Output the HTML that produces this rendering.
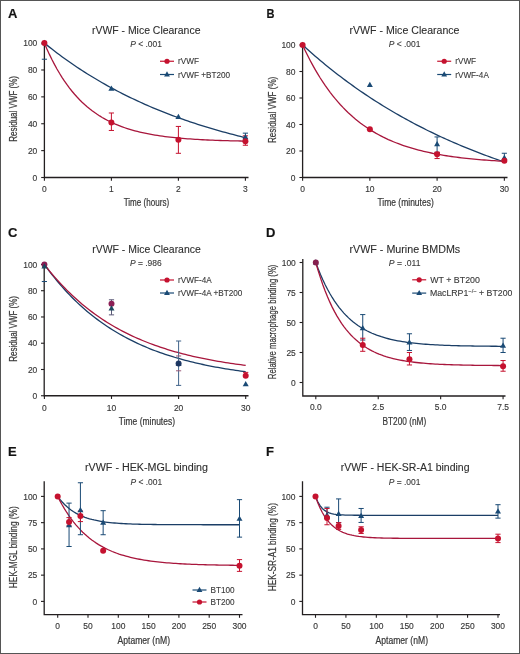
<!DOCTYPE html>
<html><head><meta charset="utf-8"><style>
html,body{margin:0;padding:0;background:#fff;}
body{width:520px;height:654px;overflow:hidden;}
svg{display:block;font-family:"Liberation Sans", sans-serif;will-change:transform;}
text{stroke:#383838;stroke-width:0.22px;}
text.t{stroke-width:0.15px;}
text.h{stroke-width:0.1px;}
</style></head><body>
<svg width="520" height="654" viewBox="0 0 520 654">
<rect x="0" y="0" width="520" height="654" fill="#fff"/>
<text x="8" y="17.5" font-size="13" font-weight="bold" fill="#111">A</text>
<text x="146.20" y="33.70" font-size="10.0" text-anchor="middle" fill="#2b2b2b" textLength="108.5" lengthAdjust="spacingAndGlyphs" class="h">rVWF - Mice Clearance</text>
<text x="146.00" y="46.80" font-size="8.7" class="h" text-anchor="middle" fill="#383838" textLength="31.7" lengthAdjust="spacingAndGlyphs"><tspan font-style="italic">P</tspan> &lt; .001</text>
<path d="M44.40,43.00V177.50H248.50" fill="none" stroke="#231f20" stroke-width="1.3"/>
<path d="M44.40,177.50v3.2" stroke="#231f20" stroke-width="1.1"/>
<path d="M111.40,177.50v3.2" stroke="#231f20" stroke-width="1.1"/>
<path d="M178.40,177.50v3.2" stroke="#231f20" stroke-width="1.1"/>
<path d="M245.40,177.50v3.2" stroke="#231f20" stroke-width="1.1"/>
<path d="M44.40,177.50h-3.2" stroke="#231f20" stroke-width="1.1"/>
<path d="M44.40,150.62h-3.2" stroke="#231f20" stroke-width="1.1"/>
<path d="M44.40,123.74h-3.2" stroke="#231f20" stroke-width="1.1"/>
<path d="M44.40,96.86h-3.2" stroke="#231f20" stroke-width="1.1"/>
<path d="M44.40,69.98h-3.2" stroke="#231f20" stroke-width="1.1"/>
<path d="M44.40,43.10h-3.2" stroke="#231f20" stroke-width="1.1"/>
<text x="44.40" y="191.50" font-size="9.0" text-anchor="middle" fill="#383838" textLength="4.70" lengthAdjust="spacingAndGlyphs" class="t">0</text>
<text x="111.40" y="191.50" font-size="9.0" text-anchor="middle" fill="#383838" textLength="4.70" lengthAdjust="spacingAndGlyphs" class="t">1</text>
<text x="178.40" y="191.50" font-size="9.0" text-anchor="middle" fill="#383838" textLength="4.70" lengthAdjust="spacingAndGlyphs" class="t">2</text>
<text x="245.40" y="191.50" font-size="9.0" text-anchor="middle" fill="#383838" textLength="4.70" lengthAdjust="spacingAndGlyphs" class="t">3</text>
<text x="37.30" y="180.70" font-size="9.0" text-anchor="end" fill="#383838" textLength="4.70" lengthAdjust="spacingAndGlyphs" class="t">0</text>
<text x="37.30" y="153.82" font-size="9.0" text-anchor="end" fill="#383838" textLength="9.41" lengthAdjust="spacingAndGlyphs" class="t">20</text>
<text x="37.30" y="126.94" font-size="9.0" text-anchor="end" fill="#383838" textLength="9.41" lengthAdjust="spacingAndGlyphs" class="t">40</text>
<text x="37.30" y="100.06" font-size="9.0" text-anchor="end" fill="#383838" textLength="9.41" lengthAdjust="spacingAndGlyphs" class="t">60</text>
<text x="37.30" y="73.18" font-size="9.0" text-anchor="end" fill="#383838" textLength="9.41" lengthAdjust="spacingAndGlyphs" class="t">80</text>
<text x="37.30" y="46.30" font-size="9.0" text-anchor="end" fill="#383838" textLength="14.11" lengthAdjust="spacingAndGlyphs" class="t">100</text>
<text x="146.45" y="206.20" font-size="10.4" text-anchor="middle" fill="#383838" textLength="45.5" lengthAdjust="spacingAndGlyphs" >Time (hours)</text>
<text transform="translate(17.40,108.90) rotate(-90)" x="0" y="0" font-size="10.6" text-anchor="middle" fill="#383838" textLength="65.7" lengthAdjust="spacingAndGlyphs">Residual VWF (%)</text>
<polyline points="44.40,43.10 46.91,45.13 49.42,47.12 51.94,49.09 54.45,51.02 56.96,52.93 59.48,54.81 61.99,56.66 64.50,58.48 67.01,60.27 69.53,62.04 72.04,63.78 74.55,65.49 77.06,67.18 79.58,68.84 82.09,70.48 84.60,72.09 87.11,73.68 89.62,75.25 92.14,76.79 94.65,78.31 97.16,79.80 99.67,81.27 102.19,82.72 104.70,84.15 107.21,85.56 109.72,86.95 112.24,88.31 114.75,89.66 117.26,90.98 119.78,92.28 122.29,93.57 124.80,94.83 127.31,96.08 129.82,97.31 132.34,98.52 134.85,99.71 137.36,100.88 139.88,102.03 142.39,103.17 144.90,104.29 147.41,105.39 149.92,106.48 152.44,107.55 154.95,108.61 157.46,109.64 159.97,110.67 162.49,111.67 165.00,112.67 167.51,113.64 170.03,114.61 172.54,115.55 175.05,116.49 177.56,117.41 180.07,118.31 182.59,119.21 185.10,120.08 187.61,120.95 190.12,121.80 192.64,122.64 195.15,123.47 197.66,124.28 200.18,125.08 202.69,125.87 205.20,126.65 207.71,127.42 210.23,128.17 212.74,128.92 215.25,129.65 217.76,130.37 220.28,131.08 222.79,131.78 225.30,132.47 227.81,133.15 230.32,133.82 232.84,134.48 235.35,135.12 237.86,135.76 240.38,136.39 242.89,137.01 245.40,137.62" fill="none" stroke="#1b3e66" stroke-width="1.3"/>
<polyline points="44.40,43.10 46.91,48.92 49.42,54.40 51.94,59.56 54.45,64.41 56.96,68.98 59.48,73.27 61.99,77.32 64.50,81.12 67.01,84.71 69.53,88.08 72.04,91.25 74.55,94.23 77.06,97.04 79.58,99.68 82.09,102.17 84.60,104.51 87.11,106.71 89.62,108.79 92.14,110.74 94.65,112.57 97.16,114.30 99.67,115.93 102.19,117.46 104.70,118.90 107.21,120.25 109.72,121.53 112.24,122.73 114.75,123.86 117.26,124.92 119.78,125.92 122.29,126.86 124.80,127.75 127.31,128.58 129.82,129.36 132.34,130.10 134.85,130.80 137.36,131.45 139.88,132.06 142.39,132.64 144.90,133.19 147.41,133.70 149.92,134.18 152.44,134.64 154.95,135.06 157.46,135.47 159.97,135.84 162.49,136.20 165.00,136.53 167.51,136.85 170.03,137.15 172.54,137.43 175.05,137.69 177.56,137.94 180.07,138.17 182.59,138.39 185.10,138.59 187.61,138.79 190.12,138.97 192.64,139.14 195.15,139.30 197.66,139.46 200.18,139.60 202.69,139.73 205.20,139.86 207.71,139.98 210.23,140.09 212.74,140.20 215.25,140.30 217.76,140.39 220.28,140.48 222.79,140.56 225.30,140.64 227.81,140.71 230.32,140.78 232.84,140.85 235.35,140.91 237.86,140.97 240.38,141.02 242.89,141.07 245.40,141.12" fill="none" stroke="#a8163c" stroke-width="1.3"/>
<path d="M41.80,59.23h5.20" stroke="#1a4a75" stroke-width="1.0"/>
<path d="M111.40,130.46V112.99M108.80,130.46h5.20M108.80,112.99h5.20" stroke="#c5122f" stroke-width="1.0" fill="none"/>
<path d="M178.40,153.31V126.43M175.80,153.31h5.20M175.80,126.43h5.20" stroke="#c5122f" stroke-width="1.0" fill="none"/>
<path d="M245.40,145.24V135.84M242.80,145.24h5.20M242.80,135.84h5.20" stroke="#c5122f" stroke-width="1.0" fill="none"/>
<path d="M245.40,141.21V133.15M242.80,141.21h5.20M242.80,133.15h5.20" stroke="#1a4a75" stroke-width="1.0" fill="none"/>
<path d="M44.40,39.86L47.40,45.08H41.40Z" fill="#1a4a75"/>
<path d="M111.40,85.56L114.40,90.78H108.40Z" fill="#1a4a75"/>
<path d="M178.40,113.78L181.40,119.00H175.40Z" fill="#1a4a75"/>
<path d="M245.40,133.94L248.40,139.16H242.40Z" fill="#1a4a75"/>
<circle cx="44.40" cy="43.10" r="3.0" fill="#c5122f"/>
<circle cx="111.40" cy="122.40" r="3.0" fill="#c5122f"/>
<circle cx="178.40" cy="139.87" r="3.0" fill="#c5122f"/>
<circle cx="245.40" cy="141.21" r="3.0" fill="#c5122f"/>
<path d="M160.00,61.25h14" stroke="#c5122f" stroke-width="1.2"/>
<circle cx="167.00" cy="61.25" r="2.6" fill="#c5122f"/>
<text x="178.00" y="64.25" font-size="8.2" text-anchor="start" fill="#383838" class="h">rVWF</text>
<path d="M160.00,74.50h14" stroke="#1a4a75" stroke-width="1.2"/>
<path d="M167.00,71.37L169.90,76.42H164.10Z" fill="#1a4a75"/>
<text x="178.00" y="77.50" font-size="8.2" text-anchor="start" fill="#383838" class="h">rVWF +BT200</text>
<text x="266.4" y="17.5" font-size="13" font-weight="bold" fill="#111" textLength="8" lengthAdjust="spacingAndGlyphs">B</text>
<text x="404.50" y="33.70" font-size="10.0" text-anchor="middle" fill="#2b2b2b" textLength="110" lengthAdjust="spacingAndGlyphs" class="h">rVWF - Mice Clearance</text>
<text x="404.60" y="46.80" font-size="8.7" class="h" text-anchor="middle" fill="#383838" textLength="31.7" lengthAdjust="spacingAndGlyphs"><tspan font-style="italic">P</tspan> &lt; .001</text>
<path d="M302.60,45.00V177.50H507.50" fill="none" stroke="#231f20" stroke-width="1.3"/>
<path d="M302.60,177.50v3.2" stroke="#231f20" stroke-width="1.1"/>
<path d="M369.85,177.50v3.2" stroke="#231f20" stroke-width="1.1"/>
<path d="M437.10,177.50v3.2" stroke="#231f20" stroke-width="1.1"/>
<path d="M504.35,177.50v3.2" stroke="#231f20" stroke-width="1.1"/>
<path d="M302.60,177.50h-3.2" stroke="#231f20" stroke-width="1.1"/>
<path d="M302.60,151.00h-3.2" stroke="#231f20" stroke-width="1.1"/>
<path d="M302.60,124.50h-3.2" stroke="#231f20" stroke-width="1.1"/>
<path d="M302.60,98.00h-3.2" stroke="#231f20" stroke-width="1.1"/>
<path d="M302.60,71.50h-3.2" stroke="#231f20" stroke-width="1.1"/>
<path d="M302.60,45.00h-3.2" stroke="#231f20" stroke-width="1.1"/>
<text x="302.60" y="191.50" font-size="9.0" text-anchor="middle" fill="#383838" textLength="4.70" lengthAdjust="spacingAndGlyphs" class="t">0</text>
<text x="369.85" y="191.50" font-size="9.0" text-anchor="middle" fill="#383838" textLength="9.41" lengthAdjust="spacingAndGlyphs" class="t">10</text>
<text x="437.10" y="191.50" font-size="9.0" text-anchor="middle" fill="#383838" textLength="9.41" lengthAdjust="spacingAndGlyphs" class="t">20</text>
<text x="504.35" y="191.50" font-size="9.0" text-anchor="middle" fill="#383838" textLength="9.41" lengthAdjust="spacingAndGlyphs" class="t">30</text>
<text x="295.50" y="180.70" font-size="9.0" text-anchor="end" fill="#383838" textLength="4.70" lengthAdjust="spacingAndGlyphs" class="t">0</text>
<text x="295.50" y="154.20" font-size="9.0" text-anchor="end" fill="#383838" textLength="9.41" lengthAdjust="spacingAndGlyphs" class="t">20</text>
<text x="295.50" y="127.70" font-size="9.0" text-anchor="end" fill="#383838" textLength="9.41" lengthAdjust="spacingAndGlyphs" class="t">40</text>
<text x="295.50" y="101.20" font-size="9.0" text-anchor="end" fill="#383838" textLength="9.41" lengthAdjust="spacingAndGlyphs" class="t">60</text>
<text x="295.50" y="74.70" font-size="9.0" text-anchor="end" fill="#383838" textLength="9.41" lengthAdjust="spacingAndGlyphs" class="t">80</text>
<text x="295.50" y="48.20" font-size="9.0" text-anchor="end" fill="#383838" textLength="14.11" lengthAdjust="spacingAndGlyphs" class="t">100</text>
<text x="405.60" y="206.20" font-size="10.4" text-anchor="middle" fill="#383838" textLength="56.25" lengthAdjust="spacingAndGlyphs" >Time (minutes)</text>
<text transform="translate(275.50,109.85) rotate(-90)" x="0" y="0" font-size="10.6" text-anchor="middle" fill="#383838" textLength="66.3" lengthAdjust="spacingAndGlyphs">Residual VWF (%)</text>
<polyline points="302.60,45.00 305.12,47.30 307.64,49.56 310.17,51.80 312.69,54.01 315.21,56.20 317.73,58.35 320.25,60.48 322.78,62.59 325.30,64.66 327.82,66.71 330.34,68.74 332.86,70.74 335.38,72.72 337.91,74.67 340.43,76.60 342.95,78.50 345.47,80.38 347.99,82.24 350.52,84.08 353.04,85.89 355.56,87.68 358.08,89.44 360.60,91.19 363.12,92.91 365.65,94.62 368.17,96.30 370.69,97.96 373.21,99.60 375.73,101.22 378.26,102.82 380.78,104.40 383.30,105.96 385.82,107.50 388.34,109.02 390.87,110.52 393.39,112.01 395.91,113.47 398.43,114.92 400.95,116.35 403.48,117.76 406.00,119.16 408.52,120.54 411.04,121.90 413.56,123.24 416.08,124.57 418.61,125.88 421.13,127.17 423.65,128.45 426.17,129.71 428.69,130.96 431.22,132.19 433.74,133.41 436.26,134.61 438.78,135.80 441.30,136.97 443.83,138.13 446.35,139.27 448.87,140.40 451.39,141.51 453.91,142.61 456.43,143.70 458.96,144.77 461.48,145.83 464.00,146.88 466.52,147.92 469.04,148.94 471.57,149.95 474.09,150.94 476.61,151.93 479.13,152.90 481.65,153.86 484.18,154.81 486.70,155.75 489.22,156.67 491.74,157.58 494.26,158.49 496.78,159.38 499.31,160.26 501.83,161.13 504.35,161.98" fill="none" stroke="#1b3e66" stroke-width="1.3"/>
<polyline points="302.60,45.00 305.12,50.40 307.64,55.55 310.17,60.47 312.69,65.17 315.21,69.65 317.73,73.93 320.25,78.02 322.78,81.92 325.30,85.65 327.82,89.20 330.34,92.60 332.86,95.84 335.38,98.94 337.91,101.89 340.43,104.72 342.95,107.41 345.47,109.98 347.99,112.44 350.52,114.78 353.04,117.02 355.56,119.16 358.08,121.20 360.60,123.15 363.12,125.01 365.65,126.78 368.17,128.48 370.69,130.10 373.21,131.64 375.73,133.12 378.26,134.53 380.78,135.87 383.30,137.16 385.82,138.38 388.34,139.56 390.87,140.67 393.39,141.74 395.91,142.76 398.43,143.73 400.95,144.66 403.48,145.55 406.00,146.39 408.52,147.20 411.04,147.97 413.56,148.71 416.08,149.41 418.61,150.08 421.13,150.73 423.65,151.34 426.17,151.92 428.69,152.48 431.22,153.01 433.74,153.52 436.26,154.01 438.78,154.47 441.30,154.91 443.83,155.34 446.35,155.74 448.87,156.12 451.39,156.49 453.91,156.84 456.43,157.18 458.96,157.50 461.48,157.80 464.00,158.10 466.52,158.37 469.04,158.64 471.57,158.89 474.09,159.14 476.61,159.37 479.13,159.59 481.65,159.80 484.18,160.00 486.70,160.19 489.22,160.38 491.74,160.55 494.26,160.72 496.78,160.88 499.31,161.03 501.83,161.18 504.35,161.32" fill="none" stroke="#a8163c" stroke-width="1.3"/>
<path d="M437.10,152.32V136.95M434.50,152.32h5.20M434.50,136.95h5.20" stroke="#1a4a75" stroke-width="1.0" fill="none"/>
<path d="M504.35,161.60V153.25M501.75,161.60h5.20M501.75,153.25h5.20" stroke="#1a4a75" stroke-width="1.0" fill="none"/>
<path d="M437.10,158.55V152.32M434.50,158.55h5.20M434.50,152.32h5.20" stroke="#c5122f" stroke-width="1.0" fill="none"/>
<path d="M302.60,41.76L305.60,46.98H299.60Z" fill="#1a4a75"/>
<path d="M369.85,81.78L372.85,87.00H366.85Z" fill="#1a4a75"/>
<path d="M437.10,141.01L440.10,146.23H434.10Z" fill="#1a4a75"/>
<path d="M504.35,154.65L507.35,159.87H501.35Z" fill="#1a4a75"/>
<circle cx="302.60" cy="45.00" r="3.0" fill="#c5122f"/>
<circle cx="369.85" cy="129.14" r="3.0" fill="#c5122f"/>
<circle cx="437.10" cy="154.31" r="3.0" fill="#c5122f"/>
<circle cx="504.35" cy="160.81" r="3.0" fill="#c5122f"/>
<path d="M437.20,61.25h14" stroke="#c5122f" stroke-width="1.2"/>
<circle cx="444.20" cy="61.25" r="2.6" fill="#c5122f"/>
<text x="455.20" y="64.25" font-size="8.2" text-anchor="start" fill="#383838" class="h">rVWF</text>
<path d="M437.20,74.50h14" stroke="#1a4a75" stroke-width="1.2"/>
<path d="M444.20,71.37L447.10,76.42H441.30Z" fill="#1a4a75"/>
<text x="455.20" y="77.50" font-size="8.2" text-anchor="start" fill="#383838" class="h">rVWF-4A</text>
<text x="8" y="237" font-size="13" font-weight="bold" fill="#111">C</text>
<text x="146.50" y="252.50" font-size="10.0" text-anchor="middle" fill="#2b2b2b" textLength="108.5" lengthAdjust="spacingAndGlyphs" class="h">rVWF - Mice Clearance</text>
<text x="145.80" y="266.00" font-size="8.7" class="h" text-anchor="middle" fill="#383838" textLength="31.7" lengthAdjust="spacingAndGlyphs"><tspan font-style="italic">P</tspan> = .986</text>
<path d="M44.20,264.50V395.75H248.50" fill="none" stroke="#231f20" stroke-width="1.3"/>
<path d="M44.40,395.75v3.2" stroke="#231f20" stroke-width="1.1"/>
<path d="M111.50,395.75v3.2" stroke="#231f20" stroke-width="1.1"/>
<path d="M178.60,395.75v3.2" stroke="#231f20" stroke-width="1.1"/>
<path d="M245.70,395.75v3.2" stroke="#231f20" stroke-width="1.1"/>
<path d="M44.20,395.75h-3.2" stroke="#231f20" stroke-width="1.1"/>
<path d="M44.20,369.49h-3.2" stroke="#231f20" stroke-width="1.1"/>
<path d="M44.20,343.23h-3.2" stroke="#231f20" stroke-width="1.1"/>
<path d="M44.20,316.97h-3.2" stroke="#231f20" stroke-width="1.1"/>
<path d="M44.20,290.71h-3.2" stroke="#231f20" stroke-width="1.1"/>
<path d="M44.20,264.45h-3.2" stroke="#231f20" stroke-width="1.1"/>
<text x="44.40" y="410.60" font-size="9.0" text-anchor="middle" fill="#383838" textLength="4.70" lengthAdjust="spacingAndGlyphs" class="t">0</text>
<text x="111.50" y="410.60" font-size="9.0" text-anchor="middle" fill="#383838" textLength="9.41" lengthAdjust="spacingAndGlyphs" class="t">10</text>
<text x="178.60" y="410.60" font-size="9.0" text-anchor="middle" fill="#383838" textLength="9.41" lengthAdjust="spacingAndGlyphs" class="t">20</text>
<text x="245.70" y="410.60" font-size="9.0" text-anchor="middle" fill="#383838" textLength="9.41" lengthAdjust="spacingAndGlyphs" class="t">30</text>
<text x="37.30" y="398.95" font-size="9.0" text-anchor="end" fill="#383838" textLength="4.70" lengthAdjust="spacingAndGlyphs" class="t">0</text>
<text x="37.30" y="372.69" font-size="9.0" text-anchor="end" fill="#383838" textLength="9.41" lengthAdjust="spacingAndGlyphs" class="t">20</text>
<text x="37.30" y="346.43" font-size="9.0" text-anchor="end" fill="#383838" textLength="9.41" lengthAdjust="spacingAndGlyphs" class="t">40</text>
<text x="37.30" y="320.17" font-size="9.0" text-anchor="end" fill="#383838" textLength="9.41" lengthAdjust="spacingAndGlyphs" class="t">60</text>
<text x="37.30" y="293.91" font-size="9.0" text-anchor="end" fill="#383838" textLength="9.41" lengthAdjust="spacingAndGlyphs" class="t">80</text>
<text x="37.30" y="267.65" font-size="9.0" text-anchor="end" fill="#383838" textLength="14.11" lengthAdjust="spacingAndGlyphs" class="t">100</text>
<text x="146.90" y="425.00" font-size="10.4" text-anchor="middle" fill="#383838" textLength="56.25" lengthAdjust="spacingAndGlyphs" >Time (minutes)</text>
<text transform="translate(17.40,328.85) rotate(-90)" x="0" y="0" font-size="10.6" text-anchor="middle" fill="#383838" textLength="65.7" lengthAdjust="spacingAndGlyphs">Residual VWF (%)</text>
<polyline points="44.40,264.45 46.92,267.92 49.43,271.28 51.95,274.55 54.46,277.72 56.98,280.80 59.50,283.78 62.01,286.68 64.53,289.50 67.05,292.23 69.56,294.88 72.08,297.45 74.59,299.95 77.11,302.38 79.63,304.73 82.14,307.02 84.66,309.23 87.18,311.39 89.69,313.48 92.21,315.51 94.72,317.47 97.24,319.39 99.76,321.24 102.27,323.04 104.79,324.79 107.31,326.49 109.82,328.13 112.34,329.73 114.85,331.28 117.37,332.79 119.89,334.25 122.40,335.67 124.92,337.05 127.44,338.38 129.95,339.68 132.47,340.94 134.98,342.16 137.50,343.35 140.02,344.50 142.53,345.62 145.05,346.71 147.57,347.76 150.08,348.78 152.60,349.78 155.12,350.74 157.63,351.67 160.15,352.58 162.66,353.46 165.18,354.32 167.70,355.15 170.21,355.95 172.73,356.74 175.25,357.50 177.76,358.23 180.28,358.95 182.79,359.64 185.31,360.32 187.83,360.97 190.34,361.61 192.86,362.22 195.38,362.82 197.89,363.40 200.41,363.97 202.92,364.51 205.44,365.04 207.96,365.56 210.47,366.06 212.99,366.55 215.50,367.02 218.02,367.48 220.54,367.92 223.05,368.35 225.57,368.77 228.09,369.18 230.60,369.57 233.12,369.95 235.63,370.32 238.15,370.69 240.67,371.04 243.18,371.38 245.70,371.71" fill="none" stroke="#1b3e66" stroke-width="1.3"/>
<polyline points="44.40,264.45 46.92,267.68 49.43,270.81 51.95,273.85 54.46,276.80 56.98,279.67 59.50,282.46 62.01,285.16 64.53,287.79 67.05,290.34 69.56,292.82 72.08,295.22 74.59,297.56 77.11,299.83 79.63,302.03 82.14,304.17 84.66,306.25 87.18,308.26 89.69,310.22 92.21,312.12 94.72,313.97 97.24,315.77 99.76,317.51 102.27,319.20 104.79,320.84 107.31,322.44 109.82,323.99 112.34,325.49 114.85,326.95 117.37,328.37 119.89,329.75 122.40,331.09 124.92,332.39 127.44,333.65 129.95,334.88 132.47,336.07 134.98,337.22 137.50,338.34 140.02,339.43 142.53,340.49 145.05,341.52 147.57,342.52 150.08,343.49 152.60,344.43 155.12,345.34 157.63,346.23 160.15,347.09 162.66,347.93 165.18,348.74 167.70,349.53 170.21,350.30 172.73,351.04 175.25,351.76 177.76,352.47 180.28,353.15 182.79,353.81 185.31,354.45 187.83,355.08 190.34,355.68 192.86,356.27 195.38,356.84 197.89,357.40 200.41,357.94 202.92,358.46 205.44,358.97 207.96,359.46 210.47,359.94 212.99,360.41 215.50,360.86 218.02,361.30 220.54,361.73 223.05,362.14 225.57,362.54 228.09,362.93 230.60,363.31 233.12,363.68 235.63,364.04 238.15,364.39 240.67,364.72 243.18,365.05 245.70,365.37" fill="none" stroke="#a8163c" stroke-width="1.3"/>
<path d="M41.80,281.52h5.20" stroke="#1a4a75" stroke-width="1.0"/>
<path d="M111.50,314.87V299.77M108.90,314.87h5.20M108.90,299.77h5.20" stroke="#5c5a78" stroke-width="1.0" fill="none"/>
<path d="M178.60,385.38V341.00M176.00,385.38h5.20M176.00,341.00h5.20" stroke="#41648a" stroke-width="1.0" fill="none"/>
<path d="M176.00,355.97h5.20" stroke="#9a5a78" stroke-width="1.0"/>
<path d="M176.00,370.80h5.20" stroke="#9a5a78" stroke-width="1.0"/>
<path d="M243.10,372.38h5.20" stroke="#c5122f" stroke-width="1.0"/>
<circle cx="44.40" cy="264.45" r="3.0" fill="#8c1f55"/>
<circle cx="111.50" cy="303.84" r="3.0" fill="#8c1f55"/>
<circle cx="178.60" cy="363.45" r="3.0" fill="#203a66"/>
<circle cx="245.70" cy="375.79" r="3.0" fill="#c5122f"/>
<path d="M44.40,263.18L47.40,268.40H41.40Z" fill="#1c4a60"/>
<path d="M111.50,305.33L114.50,310.55H108.50Z" fill="#1c4a60"/>
<path d="M178.60,360.48L181.60,365.70H175.60Z" fill="#1a3560"/>
<path d="M245.70,381.09L248.70,386.31H242.70Z" fill="#1a4a75"/>
<path d="M160.00,280.00h14" stroke="#c5122f" stroke-width="1.2"/>
<circle cx="167.00" cy="280.00" r="2.6" fill="#c5122f"/>
<text x="178.00" y="283.00" font-size="8.2" text-anchor="start" fill="#383838" class="h">rVWF-4A</text>
<path d="M160.00,293.00h14" stroke="#1a4a75" stroke-width="1.2"/>
<path d="M167.00,289.87L169.90,294.92H164.10Z" fill="#1a4a75"/>
<text x="178.00" y="296.00" font-size="8.2" text-anchor="start" fill="#383838" class="h">rVWF-4A +BT200</text>
<text x="266" y="237" font-size="13" font-weight="bold" fill="#111">D</text>
<text x="404.85" y="253.00" font-size="10.0" text-anchor="middle" fill="#2b2b2b" textLength="110.7" lengthAdjust="spacingAndGlyphs" class="h">rVWF - Murine BMDMs</text>
<text x="404.60" y="265.50" font-size="8.7" class="h" text-anchor="middle" fill="#383838" textLength="31.7" lengthAdjust="spacingAndGlyphs"><tspan font-style="italic">P</tspan> = .011</text>
<path d="M302.80,259.10V396.00H505.50" fill="none" stroke="#231f20" stroke-width="1.3"/>
<path d="M315.80,396.00v3.2" stroke="#231f20" stroke-width="1.1"/>
<path d="M378.23,396.00v3.2" stroke="#231f20" stroke-width="1.1"/>
<path d="M440.65,396.00v3.2" stroke="#231f20" stroke-width="1.1"/>
<path d="M503.07,396.00v3.2" stroke="#231f20" stroke-width="1.1"/>
<path d="M302.80,382.50h-3.2" stroke="#231f20" stroke-width="1.1"/>
<path d="M302.80,352.50h-3.2" stroke="#231f20" stroke-width="1.1"/>
<path d="M302.80,322.50h-3.2" stroke="#231f20" stroke-width="1.1"/>
<path d="M302.80,292.50h-3.2" stroke="#231f20" stroke-width="1.1"/>
<path d="M302.80,262.50h-3.2" stroke="#231f20" stroke-width="1.1"/>
<text x="315.80" y="410.30" font-size="9.0" text-anchor="middle" fill="#383838" textLength="11.76" lengthAdjust="spacingAndGlyphs" class="t">0.0</text>
<text x="378.23" y="410.30" font-size="9.0" text-anchor="middle" fill="#383838" textLength="11.76" lengthAdjust="spacingAndGlyphs" class="t">2.5</text>
<text x="440.65" y="410.30" font-size="9.0" text-anchor="middle" fill="#383838" textLength="11.76" lengthAdjust="spacingAndGlyphs" class="t">5.0</text>
<text x="503.07" y="410.30" font-size="9.0" text-anchor="middle" fill="#383838" textLength="11.76" lengthAdjust="spacingAndGlyphs" class="t">7.5</text>
<text x="295.80" y="385.70" font-size="9.0" text-anchor="end" fill="#383838" textLength="4.70" lengthAdjust="spacingAndGlyphs" class="t">0</text>
<text x="295.80" y="355.70" font-size="9.0" text-anchor="end" fill="#383838" textLength="9.41" lengthAdjust="spacingAndGlyphs" class="t">25</text>
<text x="295.80" y="325.70" font-size="9.0" text-anchor="end" fill="#383838" textLength="9.41" lengthAdjust="spacingAndGlyphs" class="t">50</text>
<text x="295.80" y="295.70" font-size="9.0" text-anchor="end" fill="#383838" textLength="9.41" lengthAdjust="spacingAndGlyphs" class="t">75</text>
<text x="295.80" y="265.70" font-size="9.0" text-anchor="end" fill="#383838" textLength="14.11" lengthAdjust="spacingAndGlyphs" class="t">100</text>
<text x="404.40" y="425.00" font-size="10.4" text-anchor="middle" fill="#383838" textLength="43.75" lengthAdjust="spacingAndGlyphs" >BT200 (nM)</text>
<text transform="translate(275.60,321.90) rotate(-90)" x="0" y="0" font-size="10.6" text-anchor="middle" fill="#383838" textLength="114.6" lengthAdjust="spacingAndGlyphs">Relative macrophage binding (%)</text>
<polyline points="315.80,262.50 318.14,268.72 320.48,274.47 322.82,279.80 325.16,284.74 327.50,289.31 329.85,293.54 332.19,297.46 334.53,301.09 336.87,304.45 339.21,307.56 341.55,310.44 343.89,313.11 346.23,315.58 348.57,317.87 350.91,319.99 353.25,321.95 355.60,323.76 357.94,325.45 360.28,327.00 362.62,328.45 364.96,329.78 367.30,331.02 369.64,332.17 371.98,333.23 374.32,334.21 376.66,335.12 379.01,335.96 381.35,336.74 383.69,337.46 386.03,338.13 388.37,338.75 390.71,339.32 393.05,339.85 395.39,340.35 397.73,340.80 400.07,341.22 402.41,341.61 404.76,341.98 407.10,342.31 409.44,342.62 411.78,342.91 414.12,343.17 416.46,343.42 418.80,343.65 421.14,343.86 423.48,344.05 425.82,344.23 428.17,344.40 430.51,344.56 432.85,344.70 435.19,344.83 437.53,344.96 439.87,345.07 442.21,345.18 444.55,345.28 446.89,345.37 449.23,345.45 451.57,345.53 453.92,345.60 456.26,345.67 458.60,345.73 460.94,345.78 463.28,345.84 465.62,345.89 467.96,345.93 470.30,345.97 472.64,346.01 474.98,346.05 477.32,346.08 479.67,346.11 482.01,346.14 484.35,346.17 486.69,346.19 489.03,346.22 491.37,346.24 493.71,346.26 496.05,346.27 498.39,346.29 500.73,346.31 503.07,346.32" fill="none" stroke="#1b3e66" stroke-width="1.3"/>
<polyline points="315.80,262.50 318.14,270.51 320.48,277.90 322.82,284.72 325.16,291.00 327.50,296.80 329.85,302.15 332.19,307.09 334.53,311.64 336.87,315.83 339.21,319.70 341.55,323.28 343.89,326.57 346.23,329.61 348.57,332.41 350.91,334.99 353.25,337.38 355.60,339.58 357.94,341.60 360.28,343.47 362.62,345.20 364.96,346.79 367.30,348.26 369.64,349.61 371.98,350.86 374.32,352.01 376.66,353.08 379.01,354.06 381.35,354.96 383.69,355.79 386.03,356.56 388.37,357.27 390.71,357.93 393.05,358.53 395.39,359.09 397.73,359.60 400.07,360.07 402.41,360.51 404.76,360.91 407.10,361.29 409.44,361.63 411.78,361.94 414.12,362.24 416.46,362.50 418.80,362.75 421.14,362.98 423.48,363.19 425.82,363.39 428.17,363.57 430.51,363.73 432.85,363.89 435.19,364.03 437.53,364.16 439.87,364.28 442.21,364.39 444.55,364.49 446.89,364.58 449.23,364.67 451.57,364.75 453.92,364.82 456.26,364.89 458.60,364.95 460.94,365.01 463.28,365.07 465.62,365.11 467.96,365.16 470.30,365.20 472.64,365.24 474.98,365.28 477.32,365.31 479.67,365.34 482.01,365.37 484.35,365.39 486.69,365.42 489.03,365.44 491.37,365.46 493.71,365.48 496.05,365.50 498.39,365.51 500.73,365.53 503.07,365.54" fill="none" stroke="#a8163c" stroke-width="1.3"/>
<path d="M362.74,340.02V314.58M360.14,340.02h5.20M360.14,314.58h5.20" stroke="#1a4a75" stroke-width="1.0" fill="none"/>
<path d="M409.44,350.46V333.78M406.84,350.46h5.20M406.84,333.78h5.20" stroke="#1a4a75" stroke-width="1.0" fill="none"/>
<path d="M503.07,352.50V338.22M500.47,352.50h5.20M500.47,338.22h5.20" stroke="#1a4a75" stroke-width="1.0" fill="none"/>
<path d="M362.74,351.30V338.22M360.14,351.30h5.20M360.14,338.22h5.20" stroke="#c5122f" stroke-width="1.0" fill="none"/>
<path d="M409.44,364.98V352.50M406.84,364.98h5.20M406.84,352.50h5.20" stroke="#c5122f" stroke-width="1.0" fill="none"/>
<path d="M503.07,371.22V360.54M500.47,371.22h5.20M500.47,360.54h5.20" stroke="#c5122f" stroke-width="1.0" fill="none"/>
<path d="M315.80,259.26L318.80,264.48H312.80Z" fill="#1a4a75"/>
<path d="M362.74,325.02L365.74,330.24H359.74Z" fill="#1a4a75"/>
<path d="M409.44,339.30L412.44,344.52H406.44Z" fill="#1a4a75"/>
<path d="M503.07,342.54L506.07,347.76H500.07Z" fill="#1a4a75"/>
<circle cx="315.80" cy="262.50" r="3.0" fill="#86204f"/>
<circle cx="362.74" cy="345.00" r="3.0" fill="#c5122f"/>
<circle cx="409.44" cy="359.22" r="3.0" fill="#c5122f"/>
<circle cx="503.07" cy="366.30" r="3.0" fill="#c5122f"/>
<path d="M412.20,279.80h14" stroke="#c5122f" stroke-width="1.2"/>
<circle cx="419.20" cy="279.80" r="2.6" fill="#c5122f"/>
<text x="430.20" y="282.80" font-size="8.2" text-anchor="start" fill="#383838" textLength="49.7" lengthAdjust="spacingAndGlyphs" class="h">WT + BT200</text>
<path d="M412.2,293.1h14" stroke="#1a4a75" stroke-width="1.2"/>
<path d="M419.20,289.97L422.10,295.02H416.30Z" fill="#1a4a75"/>
<text class="h" x="429.9" y="296.1" font-size="8.4" textLength="82.5" lengthAdjust="spacingAndGlyphs" fill="#383838">MacLRP1<tspan font-size="5.5" dy="-3.5">−/−</tspan><tspan dy="3.5"> + BT200</tspan></text>
<text x="8" y="456" font-size="13" font-weight="bold" fill="#111">E</text>
<text x="146.50" y="471.25" font-size="10.0" text-anchor="middle" fill="#2b2b2b" textLength="123" lengthAdjust="spacingAndGlyphs" class="h">rVWF - HEK-MGL binding</text>
<text x="146.30" y="484.50" font-size="8.7" class="h" text-anchor="middle" fill="#383838" textLength="31.7" lengthAdjust="spacingAndGlyphs"><tspan font-style="italic">P</tspan> &lt; .001</text>
<path d="M44.20,481.25V614.60H242.50" fill="none" stroke="#231f20" stroke-width="1.3"/>
<path d="M57.70,614.60v3.2" stroke="#231f20" stroke-width="1.1"/>
<path d="M88.00,614.60v3.2" stroke="#231f20" stroke-width="1.1"/>
<path d="M118.30,614.60v3.2" stroke="#231f20" stroke-width="1.1"/>
<path d="M148.60,614.60v3.2" stroke="#231f20" stroke-width="1.1"/>
<path d="M178.90,614.60v3.2" stroke="#231f20" stroke-width="1.1"/>
<path d="M209.20,614.60v3.2" stroke="#231f20" stroke-width="1.1"/>
<path d="M239.50,614.60v3.2" stroke="#231f20" stroke-width="1.1"/>
<path d="M44.20,601.40h-3.2" stroke="#231f20" stroke-width="1.1"/>
<path d="M44.20,575.15h-3.2" stroke="#231f20" stroke-width="1.1"/>
<path d="M44.20,548.90h-3.2" stroke="#231f20" stroke-width="1.1"/>
<path d="M44.20,522.65h-3.2" stroke="#231f20" stroke-width="1.1"/>
<path d="M44.20,496.40h-3.2" stroke="#231f20" stroke-width="1.1"/>
<text x="57.70" y="629.00" font-size="9.0" text-anchor="middle" fill="#383838" textLength="4.70" lengthAdjust="spacingAndGlyphs" class="t">0</text>
<text x="88.00" y="629.00" font-size="9.0" text-anchor="middle" fill="#383838" textLength="9.41" lengthAdjust="spacingAndGlyphs" class="t">50</text>
<text x="118.30" y="629.00" font-size="9.0" text-anchor="middle" fill="#383838" textLength="14.11" lengthAdjust="spacingAndGlyphs" class="t">100</text>
<text x="148.60" y="629.00" font-size="9.0" text-anchor="middle" fill="#383838" textLength="14.11" lengthAdjust="spacingAndGlyphs" class="t">150</text>
<text x="178.90" y="629.00" font-size="9.0" text-anchor="middle" fill="#383838" textLength="14.11" lengthAdjust="spacingAndGlyphs" class="t">200</text>
<text x="209.20" y="629.00" font-size="9.0" text-anchor="middle" fill="#383838" textLength="14.11" lengthAdjust="spacingAndGlyphs" class="t">250</text>
<text x="239.50" y="629.00" font-size="9.0" text-anchor="middle" fill="#383838" textLength="14.11" lengthAdjust="spacingAndGlyphs" class="t">300</text>
<text x="37.30" y="604.60" font-size="9.0" text-anchor="end" fill="#383838" textLength="4.70" lengthAdjust="spacingAndGlyphs" class="t">0</text>
<text x="37.30" y="578.35" font-size="9.0" text-anchor="end" fill="#383838" textLength="9.41" lengthAdjust="spacingAndGlyphs" class="t">25</text>
<text x="37.30" y="552.10" font-size="9.0" text-anchor="end" fill="#383838" textLength="9.41" lengthAdjust="spacingAndGlyphs" class="t">50</text>
<text x="37.30" y="525.85" font-size="9.0" text-anchor="end" fill="#383838" textLength="9.41" lengthAdjust="spacingAndGlyphs" class="t">75</text>
<text x="37.30" y="499.60" font-size="9.0" text-anchor="end" fill="#383838" textLength="14.11" lengthAdjust="spacingAndGlyphs" class="t">100</text>
<text x="143.75" y="643.75" font-size="10.4" text-anchor="middle" fill="#383838" textLength="52.5" lengthAdjust="spacingAndGlyphs" >Aptamer (nM)</text>
<text transform="translate(17.30,547.20) rotate(-90)" x="0" y="0" font-size="10.6" text-anchor="middle" fill="#383838" textLength="81.9" lengthAdjust="spacingAndGlyphs">HEK-MGL binding (%)</text>
<polyline points="57.70,496.40 59.97,499.39 62.25,502.06 64.52,504.45 66.79,506.59 69.06,508.51 71.34,510.22 73.61,511.75 75.88,513.12 78.15,514.35 80.42,515.44 82.70,516.42 84.97,517.30 87.24,518.09 89.52,518.79 91.79,519.42 94.06,519.98 96.33,520.48 98.61,520.93 100.88,521.33 103.15,521.69 105.42,522.02 107.69,522.30 109.97,522.56 112.24,522.79 114.51,523.00 116.78,523.18 119.06,523.35 121.33,523.50 123.60,523.63 125.88,523.75 128.15,523.85 130.42,523.95 132.69,524.03 134.97,524.11 137.24,524.18 139.51,524.24 141.78,524.29 144.06,524.34 146.33,524.38 148.60,524.42 150.87,524.46 153.14,524.49 155.42,524.51 157.69,524.54 159.96,524.56 162.24,524.58 164.51,524.60 166.78,524.61 169.05,524.63 171.32,524.64 173.60,524.65 175.87,524.66 178.14,524.67 180.42,524.68 182.69,524.69 184.96,524.69 187.23,524.70 189.50,524.71 191.78,524.71 194.05,524.71 196.32,524.72 198.60,524.72 200.87,524.72 203.14,524.73 205.41,524.73 207.69,524.73 209.96,524.73 212.23,524.74 214.50,524.74 216.77,524.74 219.05,524.74 221.32,524.74 223.59,524.74 225.87,524.74 228.14,524.74 230.41,524.74 232.68,524.74 234.95,524.75 237.23,524.75 239.50,524.75" fill="none" stroke="#1b3e66" stroke-width="1.3"/>
<polyline points="57.70,496.40 59.97,500.83 62.25,504.97 64.52,508.85 66.79,512.48 69.06,515.88 71.34,519.06 73.61,522.04 75.88,524.83 78.15,527.44 80.42,529.88 82.70,532.17 84.97,534.31 87.24,536.32 89.52,538.19 91.79,539.95 94.06,541.59 96.33,543.13 98.61,544.58 100.88,545.92 103.15,547.19 105.42,548.37 107.69,549.48 109.97,550.51 112.24,551.48 114.51,552.39 116.78,553.24 119.06,554.04 121.33,554.78 123.60,555.48 125.88,556.13 128.15,556.74 130.42,557.31 132.69,557.85 134.97,558.35 137.24,558.82 139.51,559.26 141.78,559.67 144.06,560.06 146.33,560.42 148.60,560.75 150.87,561.07 153.14,561.37 155.42,561.64 157.69,561.90 159.96,562.14 162.24,562.37 164.51,562.58 166.78,562.78 169.05,562.97 171.32,563.14 173.60,563.31 175.87,563.46 178.14,563.60 180.42,563.74 182.69,563.86 184.96,563.98 187.23,564.09 189.50,564.19 191.78,564.29 194.05,564.38 196.32,564.46 198.60,564.54 200.87,564.62 203.14,564.69 205.41,564.75 207.69,564.81 209.96,564.87 212.23,564.92 214.50,564.97 216.77,565.02 219.05,565.06 221.32,565.10 223.59,565.14 225.87,565.18 228.14,565.21 230.41,565.24 232.68,565.27 234.95,565.30 237.23,565.32 239.50,565.35" fill="none" stroke="#a8163c" stroke-width="1.3"/>
<path d="M69.06,546.49V503.12M66.46,546.49h5.20M66.46,503.12h5.20" stroke="#1a4a75" stroke-width="1.0" fill="none"/>
<path d="M80.42,534.73V482.75M77.83,534.73h5.20M77.83,482.75h5.20" stroke="#1a4a75" stroke-width="1.0" fill="none"/>
<path d="M103.15,534.73V510.68M100.55,534.73h5.20M100.55,510.68h5.20" stroke="#1a4a75" stroke-width="1.0" fill="none"/>
<path d="M239.50,537.14V499.65M236.90,537.14h5.20M236.90,499.65h5.20" stroke="#1a4a75" stroke-width="1.0" fill="none"/>
<path d="M69.06,525.80V517.61M66.46,525.80h5.20M66.46,517.61h5.20" stroke="#c5122f" stroke-width="1.0" fill="none"/>
<path d="M80.42,521.60V511.10M77.83,521.60h5.20M77.83,511.10h5.20" stroke="#c5122f" stroke-width="1.0" fill="none"/>
<path d="M239.50,571.37V559.61M236.90,571.37h5.20M236.90,559.61h5.20" stroke="#c5122f" stroke-width="1.0" fill="none"/>
<path d="M69.06,521.93L72.06,527.15H66.06Z" fill="#1a4a75"/>
<path d="M80.42,506.92L83.42,512.14H77.42Z" fill="#1a4a75"/>
<path d="M103.15,519.41L106.15,524.63H100.15Z" fill="#1a4a75"/>
<path d="M239.50,515.63L242.50,520.85H236.50Z" fill="#1a4a75"/>
<circle cx="57.70" cy="496.40" r="3.0" fill="#c5122f"/>
<circle cx="69.06" cy="521.91" r="3.0" fill="#c5122f"/>
<circle cx="80.42" cy="515.93" r="3.0" fill="#c5122f"/>
<circle cx="103.15" cy="550.68" r="3.0" fill="#c5122f"/>
<circle cx="239.50" cy="565.70" r="3.0" fill="#c5122f"/>
<path d="M192.50,590.00h14" stroke="#1a4a75" stroke-width="1.2"/>
<path d="M199.50,586.87L202.40,591.92H196.60Z" fill="#1a4a75"/>
<text x="210.50" y="593.00" font-size="8.2" text-anchor="start" fill="#383838" class="h">BT100</text>
<path d="M192.50,602.00h14" stroke="#c5122f" stroke-width="1.2"/>
<circle cx="199.50" cy="602.00" r="2.6" fill="#c5122f"/>
<text x="210.50" y="605.00" font-size="8.2" text-anchor="start" fill="#383838" class="h">BT200</text>
<text x="266" y="456" font-size="13" font-weight="bold" fill="#111">F</text>
<text x="405.10" y="471.25" font-size="10.0" text-anchor="middle" fill="#2b2b2b" textLength="128.75" lengthAdjust="spacingAndGlyphs" class="h">rVWF - HEK-SR-A1 binding</text>
<text x="404.60" y="484.50" font-size="8.7" class="h" text-anchor="middle" fill="#383838" textLength="31.7" lengthAdjust="spacingAndGlyphs"><tspan font-style="italic">P</tspan> = .001</text>
<path d="M302.50,481.25V614.60H500.00" fill="none" stroke="#231f20" stroke-width="1.3"/>
<path d="M315.50,614.60v3.2" stroke="#231f20" stroke-width="1.1"/>
<path d="M345.92,614.60v3.2" stroke="#231f20" stroke-width="1.1"/>
<path d="M376.33,614.60v3.2" stroke="#231f20" stroke-width="1.1"/>
<path d="M406.75,614.60v3.2" stroke="#231f20" stroke-width="1.1"/>
<path d="M437.16,614.60v3.2" stroke="#231f20" stroke-width="1.1"/>
<path d="M467.57,614.60v3.2" stroke="#231f20" stroke-width="1.1"/>
<path d="M497.99,614.60v3.2" stroke="#231f20" stroke-width="1.1"/>
<path d="M302.50,601.40h-3.2" stroke="#231f20" stroke-width="1.1"/>
<path d="M302.50,575.15h-3.2" stroke="#231f20" stroke-width="1.1"/>
<path d="M302.50,548.90h-3.2" stroke="#231f20" stroke-width="1.1"/>
<path d="M302.50,522.65h-3.2" stroke="#231f20" stroke-width="1.1"/>
<path d="M302.50,496.40h-3.2" stroke="#231f20" stroke-width="1.1"/>
<text x="315.50" y="629.00" font-size="9.0" text-anchor="middle" fill="#383838" textLength="4.70" lengthAdjust="spacingAndGlyphs" class="t">0</text>
<text x="345.92" y="629.00" font-size="9.0" text-anchor="middle" fill="#383838" textLength="9.41" lengthAdjust="spacingAndGlyphs" class="t">50</text>
<text x="376.33" y="629.00" font-size="9.0" text-anchor="middle" fill="#383838" textLength="14.11" lengthAdjust="spacingAndGlyphs" class="t">100</text>
<text x="406.75" y="629.00" font-size="9.0" text-anchor="middle" fill="#383838" textLength="14.11" lengthAdjust="spacingAndGlyphs" class="t">150</text>
<text x="437.16" y="629.00" font-size="9.0" text-anchor="middle" fill="#383838" textLength="14.11" lengthAdjust="spacingAndGlyphs" class="t">200</text>
<text x="467.57" y="629.00" font-size="9.0" text-anchor="middle" fill="#383838" textLength="14.11" lengthAdjust="spacingAndGlyphs" class="t">250</text>
<text x="497.99" y="629.00" font-size="9.0" text-anchor="middle" fill="#383838" textLength="14.11" lengthAdjust="spacingAndGlyphs" class="t">300</text>
<text x="295.50" y="604.60" font-size="9.0" text-anchor="end" fill="#383838" textLength="4.70" lengthAdjust="spacingAndGlyphs" class="t">0</text>
<text x="295.50" y="578.35" font-size="9.0" text-anchor="end" fill="#383838" textLength="9.41" lengthAdjust="spacingAndGlyphs" class="t">25</text>
<text x="295.50" y="552.10" font-size="9.0" text-anchor="end" fill="#383838" textLength="9.41" lengthAdjust="spacingAndGlyphs" class="t">50</text>
<text x="295.50" y="525.85" font-size="9.0" text-anchor="end" fill="#383838" textLength="9.41" lengthAdjust="spacingAndGlyphs" class="t">75</text>
<text x="295.50" y="499.60" font-size="9.0" text-anchor="end" fill="#383838" textLength="14.11" lengthAdjust="spacingAndGlyphs" class="t">100</text>
<text x="401.75" y="643.75" font-size="10.4" text-anchor="middle" fill="#383838" textLength="52.5" lengthAdjust="spacingAndGlyphs" >Aptamer (nM)</text>
<text transform="translate(275.50,547.20) rotate(-90)" x="0" y="0" font-size="10.6" text-anchor="middle" fill="#383838" textLength="88.3" lengthAdjust="spacingAndGlyphs">HEK-SR-A1 binding (%)</text>
<polyline points="315.50,496.40 317.78,501.81 320.06,505.68 322.34,508.43 324.62,510.40 326.91,511.80 329.19,512.81 331.47,513.52 333.75,514.03 336.03,514.39 338.31,514.65 340.59,514.84 342.87,514.97 345.15,515.07 347.44,515.13 349.72,515.18 352.00,515.21 354.28,515.24 356.56,515.26 358.84,515.27 361.12,515.28 363.40,515.28 365.68,515.29 367.97,515.29 370.25,515.29 372.53,515.30 374.81,515.30 377.09,515.30 379.37,515.30 381.65,515.30 383.93,515.30 386.21,515.30 388.50,515.30 390.78,515.30 393.06,515.30 395.34,515.30 397.62,515.30 399.90,515.30 402.18,515.30 404.46,515.30 406.75,515.30 409.03,515.30 411.31,515.30 413.59,515.30 415.87,515.30 418.15,515.30 420.43,515.30 422.71,515.30 424.99,515.30 427.28,515.30 429.56,515.30 431.84,515.30 434.12,515.30 436.40,515.30 438.68,515.30 440.96,515.30 443.24,515.30 445.52,515.30 447.81,515.30 450.09,515.30 452.37,515.30 454.65,515.30 456.93,515.30 459.21,515.30 461.49,515.30 463.77,515.30 466.05,515.30 468.34,515.30 470.62,515.30 472.90,515.30 475.18,515.30 477.46,515.30 479.74,515.30 482.02,515.30 484.30,515.30 486.58,515.30 488.87,515.30 491.15,515.30 493.43,515.30 495.71,515.30 497.99,515.30" fill="none" stroke="#1b3e66" stroke-width="1.3"/>
<polyline points="315.50,496.40 317.78,502.65 320.06,507.98 322.34,512.51 324.62,516.36 326.91,519.65 329.19,522.44 331.47,524.82 333.75,526.84 336.03,528.56 338.31,530.03 340.59,531.27 342.87,532.33 345.15,533.24 347.44,534.01 349.72,534.66 352.00,535.22 354.28,535.69 356.56,536.09 358.84,536.44 361.12,536.73 363.40,536.98 365.68,537.19 367.97,537.37 370.25,537.52 372.53,537.65 374.81,537.77 377.09,537.86 379.37,537.94 381.65,538.01 383.93,538.07 386.21,538.12 388.50,538.16 390.78,538.19 393.06,538.23 395.34,538.25 397.62,538.27 399.90,538.29 402.18,538.31 404.46,538.32 406.75,538.33 409.03,538.34 411.31,538.35 413.59,538.36 415.87,538.37 418.15,538.37 420.43,538.37 422.71,538.38 424.99,538.38 427.28,538.38 429.56,538.39 431.84,538.39 434.12,538.39 436.40,538.39 438.68,538.39 440.96,538.39 443.24,538.39 445.52,538.40 447.81,538.40 450.09,538.40 452.37,538.40 454.65,538.40 456.93,538.40 459.21,538.40 461.49,538.40 463.77,538.40 466.05,538.40 468.34,538.40 470.62,538.40 472.90,538.40 475.18,538.40 477.46,538.40 479.74,538.40 482.02,538.40 484.30,538.40 486.58,538.40 488.87,538.40 491.15,538.40 493.43,538.40 495.71,538.40 497.99,538.40" fill="none" stroke="#a8163c" stroke-width="1.3"/>
<path d="M327.00,517.40V507.21M324.40,517.40h5.20M324.40,507.21h5.20" stroke="#1a4a75" stroke-width="1.0" fill="none"/>
<path d="M338.62,522.65V498.92M336.02,522.65h5.20M336.02,498.92h5.20" stroke="#1a4a75" stroke-width="1.0" fill="none"/>
<path d="M361.12,522.44V508.47M358.52,522.44h5.20M358.52,508.47h5.20" stroke="#1a4a75" stroke-width="1.0" fill="none"/>
<path d="M497.99,518.13V504.69M495.39,518.13h5.20M495.39,504.69h5.20" stroke="#1a4a75" stroke-width="1.0" fill="none"/>
<path d="M327.00,524.75V508.47M324.40,524.75h5.20M324.40,508.47h5.20" stroke="#c5122f" stroke-width="1.0" fill="none"/>
<path d="M338.62,529.37V522.65M336.02,529.37h5.20M336.02,522.65h5.20" stroke="#c5122f" stroke-width="1.0" fill="none"/>
<path d="M361.12,533.46V526.75M358.52,533.46h5.20M358.52,526.75h5.20" stroke="#c5122f" stroke-width="1.0" fill="none"/>
<path d="M497.99,542.60V534.20M495.39,542.60h5.20M495.39,534.20h5.20" stroke="#c5122f" stroke-width="1.0" fill="none"/>
<path d="M327.00,512.06L330.00,517.28H324.00Z" fill="#1a4a75"/>
<path d="M338.62,510.70L341.62,515.92H335.62Z" fill="#1a4a75"/>
<path d="M361.12,512.80L364.12,518.02H358.12Z" fill="#1a4a75"/>
<path d="M497.99,508.18L500.99,513.40H494.99Z" fill="#1a4a75"/>
<circle cx="315.50" cy="496.40" r="3.0" fill="#c5122f"/>
<circle cx="327.00" cy="518.03" r="3.0" fill="#c5122f"/>
<path d="M327.00,513.64L330.00,518.86H324.00Z" fill="#c5122f"/>
<circle cx="338.62" cy="526.01" r="3.0" fill="#c5122f"/>
<circle cx="361.12" cy="530.11" r="3.0" fill="#c5122f"/>
<circle cx="497.99" cy="538.40" r="3.0" fill="#c5122f"/>
<rect x="0.5" y="0.5" width="519" height="653" fill="none" stroke="#555" stroke-width="1"/>
</svg>
</body></html>
